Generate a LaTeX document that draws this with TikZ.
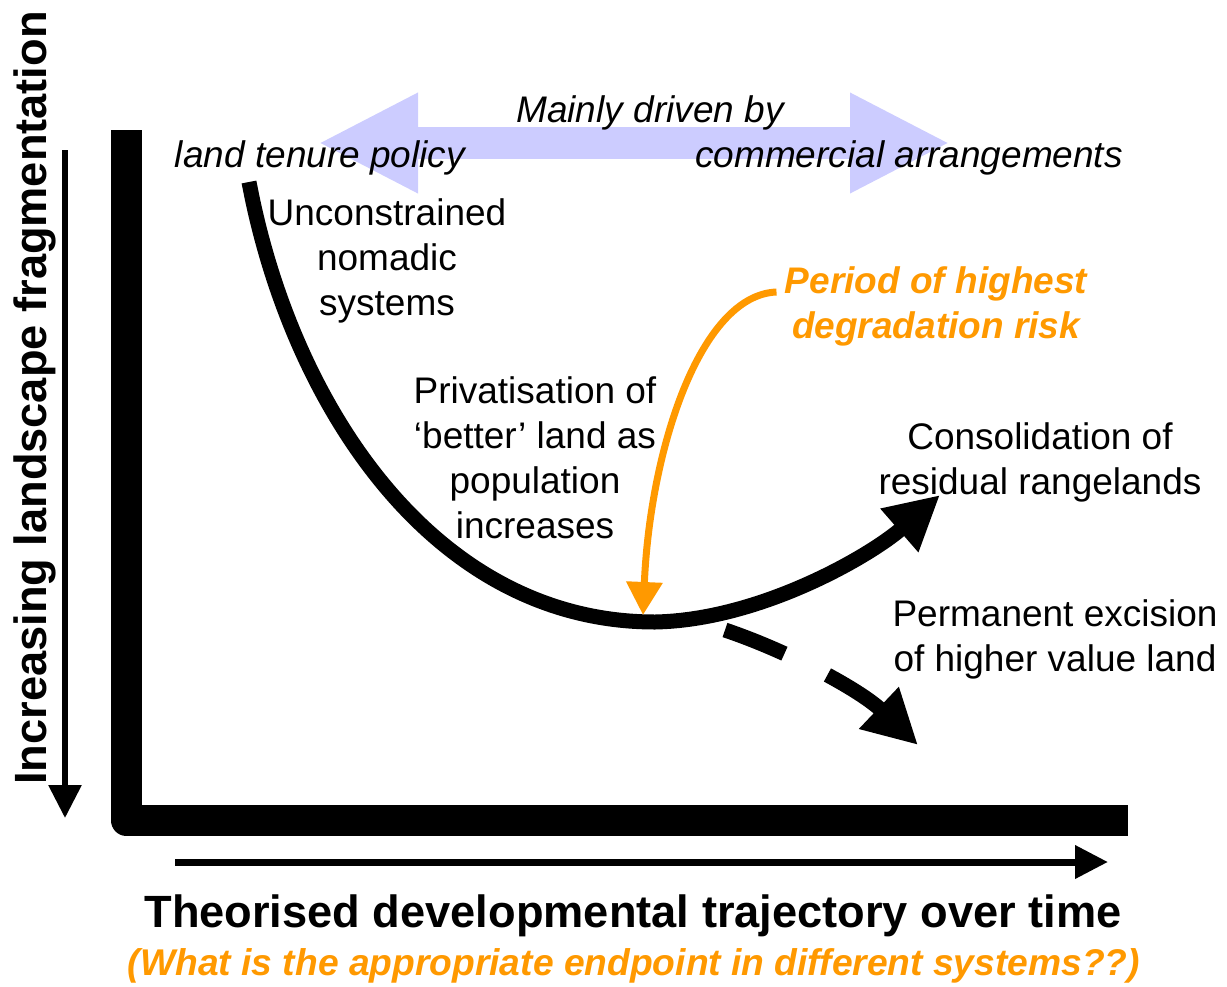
\documentclass[tikz,border=0pt]{standalone}
\usepackage{fontspec}
\setmainfont{Liberation Sans}
\usetikzlibrary{arrows.meta}

\definecolor{riskorange}{RGB}{255,153,0}
\definecolor{driverblue}{RGB}{204,204,255}

\begin{document}
\begin{tikzpicture}[x=0.5pt,y=-0.5pt,
    txt/.style={inner sep=0pt,align=center,font=\fontsize{18.5}{22.5}\selectfont},
    big/.style={inner sep=0pt,font=\fontsize{22.6}{27}\selectfont\bfseries},
    traj/.style={line width=7.5pt,-{Triangle[length=27pt,width=27pt]}},
    axisarrow/.style={line width=3pt,-{Triangle[length=16.5pt,width=16pt]}}
  ]
  \useasboundingbox (0,0) rectangle (1227,986);
  % what drives fragmentation
  \coordinate (drvL) at (318,143);
  \coordinate (drvR) at (950,143);
  \draw[driverblue,line width=16pt,{Triangle[length=50pt,width=46.5pt]}-{Triangle[length=50pt,width=46.5pt]}] (drvL) -- (drvR);
  \node[txt,font=\fontsize{18.5}{22.5}\selectfont\itshape] (mainly) at (650,113) {Mainly driven by};
  \node[txt,font=\fontsize{18.5}{22.5}\selectfont\itshape] (tenure) at (320,158) {land tenure policy};
  \node[txt,font=\fontsize{18.5}{22.5}\selectfont\itshape] (commercial) at (909,158) {commercial arrangements};
  % axes
  \draw[line width=15.5pt,line join=round] (126,130) -- (126,820) -- (1128,820);
  \coordinate (yTop) at (65,150);
  \coordinate (yEnd) at (65,818);
  \coordinate (xTop) at (175,862);
  \coordinate (xEnd) at (1108,862);
  \draw[axisarrow] (yTop) -- (yEnd);
  \draw[axisarrow,line width=3.5pt] (xTop) -- (xEnd);
  \node[big,rotate=90] (ylabel) at (35,398) {Increasing landscape fragmentation};
  \node[big] (xlabel) at (633,916) {Theorised developmental trajectory over time};
  \node[inner sep=0pt,riskorange,font=\fontsize{18.6}{22}\selectfont\bfseries\itshape] (question) at (634,966) {(What is the appropriate endpoint in different systems??)};
  % stages
  \node[txt] (nomadic) at (387,261) {Unconstrained\\nomadic\\systems};
  \node[txt] (private) at (535,458) {Privatisation of\\‘better’ land as\\population\\increases};
  \node[txt] (consol) at (1040,462) {Consolidation of\\residual rangelands};
  \node[txt] (excision) at (1055,639) {Permanent excision\\of higher value land};
  \node[txt,riskorange,font=\fontsize{18.5}{22.5}\selectfont\bfseries\itshape] (risk) at (936,306) {Period of highest\\degradation risk};
  % trajectory
  \coordinate (start) at (249,182);
  \coordinate (trough) at (655,622);
  \coordinate (consolEnd) at (940,495);
  \coordinate (branch) at (725,630);
  \coordinate (excEnd) at (918,745);
  \coordinate (riskTip) at (643,615);
  \draw[traj] (start) .. controls (290,400) and (430,622) .. (trough)
    .. controls (760,620) and (870,556) .. (consolEnd);
  \draw[traj,dash pattern=on 32pt off 24pt] (branch) .. controls (790,652) and (860,690) .. (excEnd);
  \draw[riskorange,line width=3.5pt,-{Triangle[length=16.5pt,width=17.5pt]}] ([xshift=-4pt,yshift=7pt]risk.west) .. controls (700,295) and (650,450) .. (riskTip);
\end{tikzpicture}
\end{document}
